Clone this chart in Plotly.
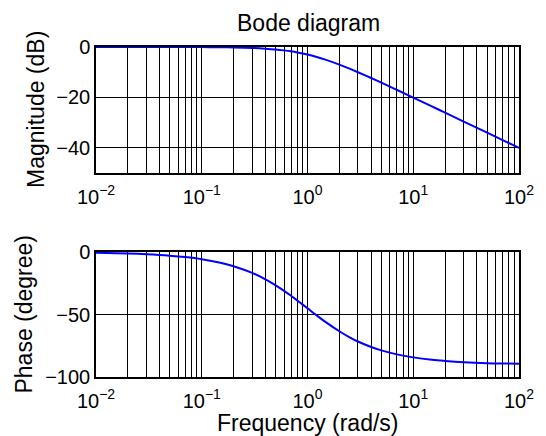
import plotly.graph_objects as go

# Data
freq = [0.01, 0.02, 0.03, 0.05, 0.07, 0.1, 0.15, 0.2, 0.3, 0.4, 0.5, 0.6, 0.7, 0.8,
        1.0, 1.2, 1.5, 2.0, 2.5, 3.0, 4.0, 5.0, 7.0, 10.0, 15.0, 20.0, 30.0, 50.0, 70.0, 100.0]
magnitude_db = [0.0, 0.0, 0.0, -0.01, -0.02, -0.04, -0.1, -0.17, -0.37, -0.65, -0.97, -1.34,
                -1.73, -2.15, -3.01, -3.87, -5.12, -6.99, -8.6, -10.0, -12.3, -14.15, -16.99,
                -20.04, -23.54, -26.03, -29.55, -33.98, -36.9, -40.0]
phase_deg = [-0.57, -1.15, -1.72, -2.86, -4.0, -5.71, -8.53, -11.3, -16.7, -21.8, -26.6, -31.0,
             -35.0, -38.7, -45.0, -50.2, -56.3, -63.4, -68.2, -71.6, -76.0, -78.7, -81.9,
             -84.3, -86.2, -87.1, -88.1, -88.9, -89.2, -89.4]

x_tickvals = [0.01, 0.1, 1, 10, 100]
x_ticktext = ["10<sup>\u22122</sup>", "10<sup>\u22121</sup>", "10<sup>0</sup>",
              "10<sup>1</sup>", "10<sup>2</sup>"]
mag_ticks = [-40, -20, 0]
phase_ticks = [-100, -50, 0]

W, H = 546, 436
L, R, T, B = 96, 20, 46.5, 59.3
PW, PH = W - L - R, H - T - B

def px_x(px):
    return (px - L) / PW

def px_y(py):
    return (H - B - py) / PH

FONT = "Liberation Sans, Arial, Helvetica, sans-serif"
TICK = 20
TITLE = 23

fig = go.Figure()
fig.add_trace(go.Scatter(x=freq, y=magnitude_db, mode="lines", xaxis="x", yaxis="y",
                         line=dict(color="#0000ff", width=2, shape="spline"),
                         showlegend=False, cliponaxis=False, hoverinfo="skip"))
fig.add_trace(go.Scatter(x=freq, y=phase_deg, mode="lines", xaxis="x2", yaxis="y2",
                         line=dict(color="#0000ff", width=2, shape="spline"),
                         showlegend=False, cliponaxis=False, hoverinfo="skip"))

top_dom = [1 - (172.7 - 46.5) / PH, 1]
bot_dom = [0, (376.7 - 251.7) / PH]

xcommon = dict(type="log", range=[-2, 2], tickmode="array", tickvals=x_tickvals,
               ticktext=x_ticktext, showgrid=True, gridcolor="black", gridwidth=1,
               minor=dict(dtick="D1", showgrid=True, gridcolor="black", gridwidth=1, ticks=""),
               showline=True, linecolor="black", linewidth=1.5, mirror=True,
               ticks="", zeroline=False, layer="below traces", ticklabelstandoff=5,
               tickfont=dict(family=FONT, size=TICK, color="black"))
ycommon = dict(showgrid=True, gridcolor="black", gridwidth=1,
               showline=True, linecolor="black", linewidth=1.5, mirror=True,
               ticks="", zeroline=False, layer="below traces",
               tickfont=dict(family=FONT, size=TICK, color="black"))

fig.update_layout(
    width=W, height=H,
    margin=dict(l=L, r=R, t=T, b=B, pad=0),
    paper_bgcolor="white", plot_bgcolor="white",
    xaxis=dict(domain=[0, 1], anchor="y", **xcommon),
    yaxis=dict(domain=top_dom, anchor="x", range=[-50, 0], tickvals=mag_ticks, **ycommon),
    xaxis2=dict(domain=[0, 1], anchor="y2", **xcommon),
    yaxis2=dict(domain=bot_dom, anchor="x2", range=[-100, 0], tickvals=phase_ticks, **ycommon),
    annotations=[
        dict(text="Bode diagram", x=px_x(312), y=px_y(22), xref="paper", yref="paper",
             showarrow=False, xanchor="center", yanchor="middle",
             font=dict(family=FONT, size=TITLE, color="black")),
        dict(text="Magnitude (dB)", x=px_x(35.5), y=px_y(109), xref="paper", yref="paper",
             showarrow=False, xanchor="center", yanchor="middle", textangle=-90,
             font=dict(family=FONT, size=TITLE, color="black")),
        dict(text="Phase (degree)", x=px_x(23), y=px_y(314), xref="paper", yref="paper",
             showarrow=False, xanchor="center", yanchor="middle", textangle=-90,
             font=dict(family=FONT, size=TITLE, color="black")),
        dict(text="Frequency (rad/s)", x=px_x(311), y=px_y(423), xref="paper", yref="paper",
             showarrow=False, xanchor="center", yanchor="middle",
             font=dict(family=FONT, size=TITLE, color="black")),
    ],
)

fig.write_html(
    "out.html", config={"displayModeBar": False},
    post_script=("document.documentElement.style.margin='0';"
                 "document.documentElement.style.overflow='hidden';"
                 "document.body.style.margin='0';document.body.style.padding='0';"
                 "document.body.style.overflow='hidden';"))
